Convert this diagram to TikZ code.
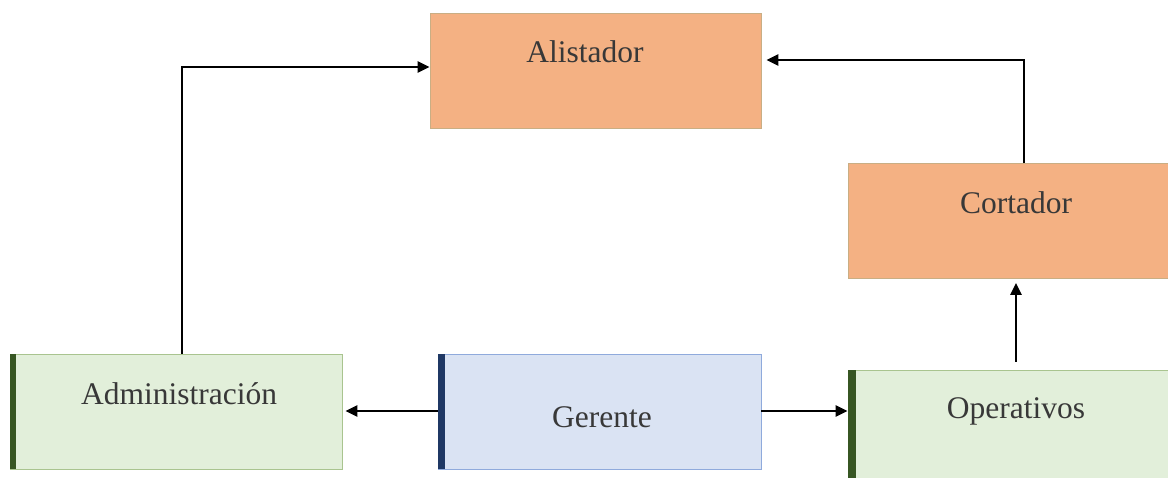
\documentclass[tikz,border=0pt]{standalone}
\usepackage{fontspec}
\setmainfont{Liberation Serif}
\usepackage{xcolor}
\usetikzlibrary{calc}
\usetikzlibrary{arrows.meta}

\definecolor{orfill}{HTML}{F4B183}
\definecolor{ordraw}{HTML}{C9AE84}
\definecolor{grfill}{HTML}{E2EFDA}
\definecolor{grdraw}{HTML}{A9C48F}
\definecolor{grbar}{HTML}{375623}
\definecolor{blfill}{HTML}{DAE3F3}
\definecolor{bldraw}{HTML}{8FAADC}
\definecolor{blbar}{HTML}{1F3864}
\definecolor{txt}{HTML}{383838}

\begin{document}
\begin{tikzpicture}[x=1pt, y=1pt,
        box/.style = {rectangle, inner sep=0pt, line width=0.8pt, minimum height=115pt},
        orbox/.style = {box, fill=orfill, draw=ordraw},
        grbox/.style = {box, fill=grfill, draw=grdraw},
        blbox/.style = {box, fill=blfill, draw=bldraw},
        boxtext/.style = {anchor=base, text=txt, font=\fontsize{31.5}{36}\selectfont},
        flow/.style = {line width=2.4pt, arrows={-Stealth[length=12pt,width=11pt,inset=0pt]}}]
        \useasboundingbox (0,0) rectangle (1168,477);

        % boxes
        \node[orbox, minimum width=331pt] (alis) at (595.5,406.5) {};
        \node[orbox, minimum width=320pt] (cort) at (1008,256) {};
        \node[grbox, minimum width=332pt] (adm) at (176,65.5) {};
        \node[blbox, minimum width=323pt] (ger) at (599.5,65.5) {};
        \node[grbox, minimum width=320pt] (oper) at (1008,49.5) {};

        % left bars
        \fill[grbar] (adm.north west) rectangle ([xshift=6pt]adm.south west);
        \fill[blbar] (ger.north west) rectangle ([xshift=7pt]ger.south west);
        \fill[grbar] (oper.north west) rectangle ([xshift=8pt]oper.south west);

        % texts
        \node[boxtext] (talis) at (585,414) {Alistador};
        \node[boxtext] (tcort) at (1016,263) {Cortador};
        \node[boxtext] (tadm) at (179,73) {Administración};
        \node[boxtext] (tger) at (602,49) {Gerente};
        \node[boxtext] (toper) at (1016,59) {Operativos};

        % connectors
        \coordinate (a1) at ([xshift=6pt]adm.north);
        \coordinate (a2) at ([yshift=3.5pt]alis.west);
        \draw[flow] (a1) |- (a2);
        \coordinate (c1) at ([xshift=16pt]cort.north);
        \coordinate (c2) at ([xshift=5pt,yshift=10.5pt]alis.east);
        \draw[flow] (c1) |- (c2);
        \draw[flow, shorten >=3pt] ([yshift=0.5pt]ger.west) -- ([yshift=0.5pt]adm.east);
        \draw[flow] (ger.east |- 0,66) -- (oper.west |- 0,66);
        \draw[flow, shorten <=8pt, shorten >=4pt] ([xshift=8pt]oper.north) -- ([xshift=8pt]cort.south);
\end{tikzpicture}
\end{document}
